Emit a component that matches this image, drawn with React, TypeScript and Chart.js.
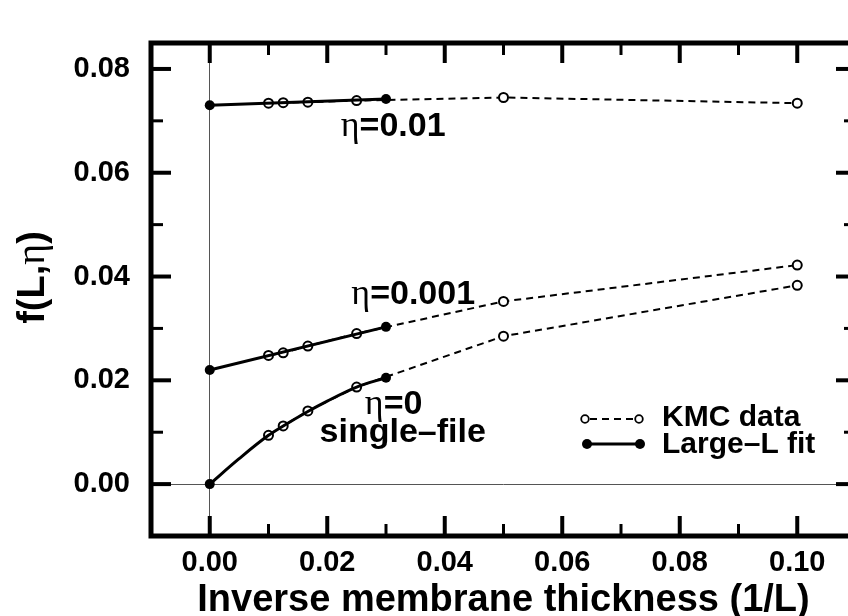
import React, { useEffect, useRef } from "react";
import { Chart, registerables } from "chart.js";

Chart.register(...registerables);

// ---- tick values ----
const xMajorTicks = [0, 0.02, 0.04, 0.06, 0.08, 0.1];
const xMinorTicks = [0.01, 0.03, 0.05, 0.07, 0.09];
const yMajorTicks = [0, 0.02, 0.04, 0.06, 0.08];
const yMinorTicks = [0.01, 0.03, 0.05, 0.07];

// ---- KMC data (open circles, dashed) ----
const kmcX = [0.01, 0.0125, 0.0167, 0.025, 0.05, 0.1];
const kmcEta0p01 = [0.0734, 0.0735, 0.0736, 0.0739, 0.0745, 0.0734];
const kmcEta0p001 = [0.0248, 0.0253, 0.0266, 0.029, 0.0352, 0.0422];
const kmcEta0 = [0.0094, 0.0112, 0.0141, 0.0187, 0.0285, 0.0383];

// ---- Large-L fit (solid line, filled end points) ----
const fitXEta0p01 = [0, 0.03];
const fitYEta0p01 = [0.073, 0.0742];
const fitXEta0p001 = [0, 0.03];
const fitYEta0p001 = [0.022, 0.0303];
const fitXEta0 = [0, 0.005, 0.01, 0.0125, 0.0167, 0.02, 0.025, 0.03];
const fitYEta0 = [0, 0.0049, 0.0094, 0.0112, 0.014, 0.016, 0.0187, 0.0205];

const SANS = "'Liberation Sans', Arial, Helvetica, sans-serif";
const SERIF = "'Liberation Serif', 'Times New Roman', serif";

const CANVAS_W = 880;
const CANVAS_H = 616;

const pts = (xs: number[], ys: number[]) => xs.map((x, i) => ({ x, y: ys[i] }));

const kmcDataset = (xs: number[], ys: number[]) => ({
  label: "KMC data",
  data: pts(xs, ys),
  borderColor: "#000",
  borderWidth: 2,
  borderDash: [7, 5],
  pointRadius: 4.5,
  pointBorderWidth: 2,
  pointBackgroundColor: "#fff",
  pointBorderColor: "#000",
  fill: false,
  order: 2,
});

const fitDataset = (xs: number[], ys: number[], curved: boolean) => ({
  label: "Large-L fit",
  data: pts(xs, ys),
  borderColor: "#000",
  borderWidth: 3,
  pointRadius: (c: any) => (c.dataIndex === 0 || c.dataIndex === xs.length - 1 ? 5 : 0),
  pointBackgroundColor: "#000",
  pointBorderColor: "#000",
  pointBorderWidth: 0,
  cubicInterpolationMode: curved ? "monotone" : "default",
  fill: false,
  order: 1,
});

function drawParts(ctx: CanvasRenderingContext2D, parts: { t: string; f: string }[], x: number, y: number, align: "left" | "center") {
  let total = 0;
  for (const p of parts) {
    ctx.font = p.f;
    total += ctx.measureText(p.t).width;
  }
  let cx = align === "center" ? x - total / 2 : x;
  ctx.textAlign = "left";
  for (const p of parts) {
    ctx.font = p.f;
    ctx.fillText(p.t, cx, y);
    cx += ctx.measureText(p.t).width;
  }
}

const decorPlugin = {
  id: "decor",
  afterDraw(chart: any) {
    const ctx: CanvasRenderingContext2D = chart.ctx;
    const { left, right, top, bottom } = chart.chartArea;
    const xs = chart.scales.x;
    const ys = chart.scales.y;
    ctx.save();
    ctx.strokeStyle = "#000";
    ctx.fillStyle = "#000";
    ctx.lineCap = "butt";

    // frame
    ctx.lineWidth = 5;
    ctx.strokeRect(left, top, right - left, bottom - top);

    // inward ticks
    const tick = (x1: number, y1: number, x2: number, y2: number, w: number) => {
      ctx.lineWidth = w;
      ctx.beginPath();
      ctx.moveTo(x1, y1);
      ctx.lineTo(x2, y2);
      ctx.stroke();
    };
    const MAJ = 20, MIN = 12;
    for (const v of xMajorTicks) {
      const px = xs.getPixelForValue(v);
      tick(px, bottom, px, bottom - MAJ, 4);
      tick(px, top, px, top + MAJ, 4);
    }
    for (const v of xMinorTicks) {
      const px = xs.getPixelForValue(v);
      tick(px, bottom, px, bottom - MIN, 3);
      tick(px, top, px, top + MIN, 3);
    }
    for (const v of yMajorTicks) {
      const py = ys.getPixelForValue(v);
      tick(left, py, left + MAJ, py, 4);
      tick(right, py, right - MAJ, py, 4);
    }
    for (const v of yMinorTicks) {
      const py = ys.getPixelForValue(v);
      tick(left, py, left + MIN, py, 3);
      tick(right, py, right - MIN, py, 3);
    }

    ctx.textBaseline = "alphabetic";

    // x axis title
    ctx.font = `bold 38px ${SANS}`;
    ctx.textAlign = "center";
    ctx.fillText("Inverse membrane thickness (1/L)", (left + right) / 2, CANVAS_H - 5);

    // y axis title (rotated)
    ctx.save();
    ctx.translate(44, (top + bottom) / 2 - 12);
    ctx.rotate(-Math.PI / 2);
    drawParts(ctx, [
      { t: "f(L,", f: `bold 38px ${SANS}` },
      { t: "η", f: `40px ${SERIF}` },
      { t: ")", f: `bold 38px ${SANS}` },
    ], 0, 0, "center");
    ctx.restore();

    // curve annotations
    const ann = (label: string, dx: number, dy: number) => {
      drawParts(ctx, [
        { t: "η", f: `36px ${SERIF}` },
        { t: label, f: `bold 34px ${SANS}` },
      ], xs.getPixelForValue(dx), ys.getPixelForValue(dy), "left");
    };
    ann("=0.01", 0.0223, 0.067);
    ann("=0.001", 0.0241, 0.0348);
    ann("=0", 0.0264, 0.0136);
    ctx.font = `bold 34px ${SANS}`;
    ctx.textAlign = "left";
    ctx.fillText("single–file", xs.getPixelForValue(0.0187), ys.getPixelForValue(0.0081));

    // legend
    const lx1 = right - 271, lx2 = right - 217, tx = right - 194;
    const r1 = bottom - 117, r2 = bottom - 92;
    ctx.lineWidth = 2;
    ctx.setLineDash([7, 5]);
    ctx.beginPath();
    ctx.moveTo(lx1 + 5, r1);
    ctx.lineTo(lx2 - 5, r1);
    ctx.stroke();
    ctx.setLineDash([]);
    for (const cx of [lx1, lx2]) {
      ctx.beginPath();
      ctx.arc(cx, r1, 3.8, 0, Math.PI * 2);
      ctx.fillStyle = "#fff";
      ctx.fill();
      ctx.lineWidth = 1.8;
      ctx.stroke();
    }
    ctx.fillStyle = "#000";
    ctx.lineWidth = 3;
    ctx.beginPath();
    ctx.moveTo(lx1 + 2, r2);
    ctx.lineTo(lx2 + 1, r2);
    ctx.stroke();
    for (const cx of [lx1 + 2, lx2 + 1]) {
      ctx.beginPath();
      ctx.arc(cx, r2, 5, 0, Math.PI * 2);
      ctx.fill();
    }
    ctx.font = `bold 30px ${SANS}`;
    ctx.textAlign = "left";
    ctx.fillText("KMC data", tx, r1 + 7);
    ctx.fillText("Large–L fit", tx, r2 + 9);

    ctx.restore();
  },
};

export default function App() {
  const ref = useRef<HTMLCanvasElement>(null);

  useEffect(() => {
    if (!ref.current) return;
    const zeroGrid = (c: any) => (c.tick && c.tick.value === 0 ? "#555" : "rgba(0,0,0,0)");
    const chart = new Chart(ref.current, {
      type: "line",
      data: {
        datasets: [
          fitDataset(fitXEta0p01, fitYEta0p01, false),
          fitDataset(fitXEta0p001, fitYEta0p001, false),
          fitDataset(fitXEta0, fitYEta0, true),
          kmcDataset(kmcX, kmcEta0p01),
          kmcDataset(kmcX, kmcEta0p001),
          kmcDataset(kmcX, kmcEta0),
        ] as any,
      },
      options: {
        animation: false,
        responsive: false,
        devicePixelRatio: 1,
        layout: { padding: { top: 43, right: CANVAS_W - 856, left: 0, bottom: 0 } },
        plugins: { legend: { display: false }, tooltip: { enabled: false } },
        scales: {
          x: {
            type: "linear",
            min: -0.01,
            max: 0.11,
            afterBuildTicks: (s: any) => {
              s.ticks = xMajorTicks.map((v) => ({ value: v }));
            },
            afterFit: (s: any) => {
              s.height = CANVAS_H - 536;
            },
            ticks: {
              callback: (v: any) => Number(v).toFixed(2),
              font: { family: SANS, size: 29, weight: "bold" },
              color: "#000",
              padding: 10,
              maxRotation: 0,
              autoSkip: false,
            },
            grid: { drawTicks: false, color: zeroGrid, lineWidth: 1 },
            border: { display: false },
          },
          y: {
            type: "linear",
            min: -0.01,
            max: 0.085,
            afterBuildTicks: (s: any) => {
              s.ticks = yMajorTicks.map((v) => ({ value: v }));
            },
            afterFit: (s: any) => {
              s.width = 151;
            },
            ticks: {
              callback: (v: any) => Number(v).toFixed(2),
              font: { family: SANS, size: 29, weight: "bold" },
              color: "#000",
              padding: 21,
              autoSkip: false,
            },
            grid: { drawTicks: false, color: zeroGrid, lineWidth: 1 },
            border: { display: false },
          },
        },
      } as any,
      plugins: [decorPlugin],
    });
    return () => chart.destroy();
  }, []);

  return (
    <div
      style={{
        position: "fixed",
        left: 0,
        top: 0,
        width: 848,
        height: 616,
        overflow: "hidden",
        background: "#fff",
      }}
    >
      <canvas ref={ref} width={CANVAS_W} height={CANVAS_H} style={{ display: "block" }} />
    </div>
  );
}
